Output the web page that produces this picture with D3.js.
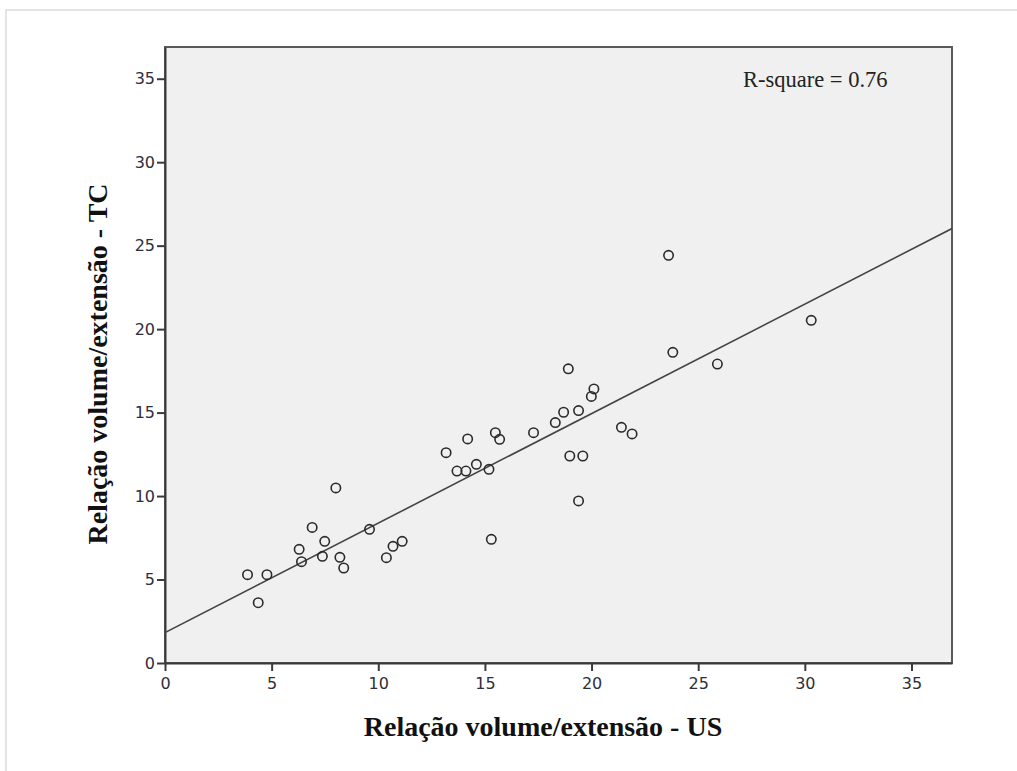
<!DOCTYPE html>
<html>
<head>
<meta charset="utf-8">
<script src="https://cdn.jsdelivr.net/npm/d3@7"></script>
<style>
  body { margin: 0; background: #fff; }
</style>
</head>
<body>
<svg id="chart"></svg>
<script>
// valores (US x TC)
const usValues = [3.87, 4.78, 4.37, 6.29, 6.4, 6.9, 7.49, 7.38, 8.01, 8.2, 8.38, 9.59, 10.38, 10.69, 11.12,
  13.18, 13.69, 14.11, 14.19, 14.6, 15.19, 15.3, 15.49, 15.69, 17.28, 18.3, 18.69, 18.91, 18.98, 19.39,
  19.39, 19.59, 19.99, 20.11, 21.4, 21.9, 23.61, 23.81, 25.9, 30.3];
const tcValues = [5.29, 5.29, 3.61, 6.81, 6.07, 8.12, 7.29, 6.39, 10.49, 6.33, 5.69, 8.01, 6.31, 6.99, 7.29,
  12.6, 11.5, 11.5, 13.42, 11.9, 11.6, 7.41, 13.8, 13.4, 13.8, 14.4, 15.02, 17.62, 12.4, 15.12,
  9.71, 12.4, 15.97, 16.42, 14.12, 13.72, 24.42, 18.61, 17.91, 20.53];
const tickValues = [0, 5, 10, 15, 20, 25, 30, 35];
const fitIntercept = 1.82;
const fitSlope = 0.656;
const rSquareLabel = 'R-square = 0.76';
const xTitle = 'Relação volume/extensão - US';
const yTitle = 'Relação volume/extensão - TC';

const width = 1017;
const height = 771;
const margin = { top: 47, right: 65, bottom: 108, left: 165 };
const axisMax = 36.9;

const svg = d3.select('#chart')
  .attr('width', width)
  .attr('height', height);

// moldura externa clara
svg.append('rect')
  .attr('x', 6)
  .attr('y', 10)
  .attr('width', width + 50)
  .attr('height', height + 50)
  .attr('fill', 'none')
  .attr('stroke', '#dcdcdc')
  .attr('stroke-width', 1.5);

const xScale = d3.scaleLinear()
  .domain([0, axisMax])
  .range([margin.left, width - margin.right]);

const yScale = d3.scaleLinear()
  .domain([0, axisMax])
  .range([height - margin.bottom, margin.top]);

// área do gráfico
svg.append('rect')
  .attr('x', xScale(0))
  .attr('y', yScale(axisMax))
  .attr('width', xScale(axisMax) - xScale(0))
  .attr('height', yScale(0) - yScale(axisMax))
  .attr('fill', '#f0f0f0')
  .attr('stroke', '#5a5a5a')
  .attr('stroke-width', 2);

// eixos
const xAxis = d3.axisBottom(xScale).tickValues(tickValues).tickSize(8).tickSizeOuter(0);
const yAxis = d3.axisLeft(yScale).tickValues(tickValues).tickSize(8).tickSizeOuter(0);

const gx = svg.append('g')
  .attr('transform', `translate(0,${yScale(0)})`)
  .call(xAxis);

const gy = svg.append('g')
  .attr('transform', `translate(${xScale(0)},0)`)
  .call(yAxis);

[gx, gy].forEach(g => {
  g.select('.domain').attr('stroke', '#3a3a3a').attr('stroke-width', 2);
  g.selectAll('.tick line').attr('stroke', '#3a3a3a').attr('stroke-width', 2);
  g.selectAll('.tick text')
    .attr('font-family', 'DejaVu Sans, sans-serif')
    .attr('font-size', '16px')
    .attr('fill', '#2e2e3a');
});
gx.selectAll('.tick text').attr('dy', '0.95em');
gy.selectAll('.tick text').attr('x', -10);

// reta de regressão
svg.append('clipPath').attr('id', 'plot-clip')
  .append('rect')
  .attr('x', xScale(0))
  .attr('y', yScale(axisMax))
  .attr('width', xScale(axisMax) - xScale(0))
  .attr('height', yScale(0) - yScale(axisMax));

svg.append('line')
  .attr('clip-path', 'url(#plot-clip)')
  .attr('x1', xScale(0))
  .attr('y1', yScale(fitIntercept))
  .attr('x2', xScale(axisMax))
  .attr('y2', yScale(fitIntercept + fitSlope * axisMax))
  .attr('stroke', '#444')
  .attr('stroke-width', 1.6);

// pontos
svg.append('g')
  .selectAll('circle')
  .data(usValues.map((v, i) => ({ us: v, tc: tcValues[i] })))
  .join('circle')
  .attr('cx', d => xScale(d.us))
  .attr('cy', d => yScale(d.tc))
  .attr('r', 4.7)
  .attr('fill', 'none')
  .attr('stroke', '#2a2a2a')
  .attr('stroke-width', 1.6);

// R-square
svg.append('text')
  .attr('x', 743)
  .attr('y', 87)
  .attr('font-family', 'Liberation Serif, Times New Roman, serif')
  .attr('font-size', '22.5px')
  .attr('fill', '#222')
  .text(rSquareLabel);

// títulos dos eixos
svg.append('text')
  .attr('x', 543)
  .attr('y', 736)
  .attr('text-anchor', 'middle')
  .attr('font-family', 'Liberation Serif, Times New Roman, serif')
  .attr('font-weight', 'bold')
  .attr('font-size', '28px')
  .attr('fill', '#111')
  .text(xTitle);

svg.append('text')
  .attr('transform', `translate(107,${(yScale(0) + yScale(axisMax)) / 2 + 9}) rotate(-90)`)
  .attr('text-anchor', 'middle')
  .attr('font-family', 'Liberation Serif, Times New Roman, serif')
  .attr('font-weight', 'bold')
  .attr('font-size', '28px')
  .attr('fill', '#111')
  .text(yTitle);
</script>
</body>
</html>
